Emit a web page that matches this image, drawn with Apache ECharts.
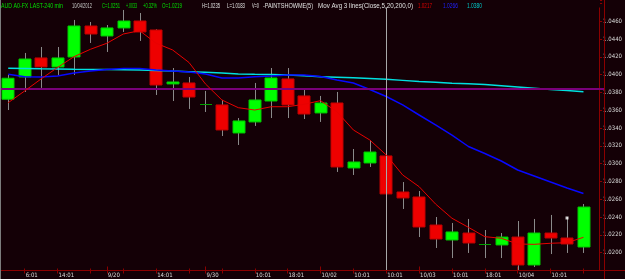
<!DOCTYPE html>
<html><head><meta charset="utf-8">
<script src="https://cdn.jsdelivr.net/npm/echarts@6/dist/echarts.min.js"></script>
<style>html,body{margin:0;padding:0;background:#140006;}#c{width:625px;height:279px;}</style>
</head><body><div id="c"></div>
<script>
// x-axis categories (one per 240-min bar; last slot is empty padding)
const categories = ['', '6:01', '', '14:01', '', '', '9/20', '', '', '14:01', '', '', '9/30', '', '', '10:01', '', '18:01', '', '10/02', '', '10:01', '', '10:01', '', '10/03', '', '10:01', '', '18:01', '', '10/04', '', '10:01', '', '', ''];
const tickIndices = [1, 3, 5, 6, 7, 9, 11, 12, 13, 15, 17, 19, 21, 23, 25, 27, 29, 31, 33, 35];
const dayTickIndices = [6, 12, 19, 25, 31];

const opens  = [1.03724,1.03974,1.04188,1.04087,1.04199,1.04547,1.04435,1.04525,1.04603,1.04502,1.03896,1.03907,1.03671,1.03660,1.03345,1.03469,1.03704,1.03952,1.03761,1.03570,1.03682,1.02952,1.03008,1.03087,1.02682,1.02626,1.02311,1.02143,1.02221,1.02098,1.02087,1.02176,1.01862,1.02221,1.02165,1.02064];
const closes = [1.03960,1.04176,1.04087,1.04188,1.04547,1.04457,1.04525,1.04603,1.04480,1.03884,1.03918,1.03749,1.03671,1.03379,1.03480,1.03716,1.03963,1.03660,1.03558,1.03682,1.02963,1.03019,1.03131,1.02660,1.02615,1.02289,1.02154,1.02233,1.02109,1.02098,1.02176,1.01862,1.02221,1.02165,1.02098,1.02513];
const lows   = [1.03603,1.03806,1.03851,1.03997,1.03997,1.04356,1.04255,1.04480,1.04379,1.03772,1.03704,1.03615,1.03581,1.03311,1.03210,1.03424,1.03513,1.03513,1.03502,1.03469,1.02907,1.02873,1.02963,1.02626,1.02491,1.02176,1.02053,1.01940,1.01997,1.01940,1.01940,1.01806,1.01839,1.01985,1.01997,1.01997];
const highs  = [1.03997,1.04244,1.04311,1.04311,1.04615,1.04592,1.04558,1.04727,1.04693,1.04510,1.04075,1.03974,1.03817,1.03716,1.03513,1.03907,1.04075,1.04075,1.03839,1.03761,1.03806,1.03165,1.03266,1.03154,1.02794,1.02693,1.02401,1.02334,1.02379,1.02255,1.02221,1.02356,1.02379,1.02424,1.02401,1.02547];

const ma5   = [1.03685,1.03817,1.03952,1.04081,1.04202,1.04285,1.04353,1.04457,1.04494,1.04353,1.04278,1.04137,1.03896,1.03716,1.03629,1.03603,1.03640,1.03640,1.03667,1.03708,1.03584,1.03379,1.03266,1.03098,1.02873,1.02742,1.02547,1.02387,1.02285,1.02180,1.02162,1.02098,1.02094,1.02106,1.02112,1.02173];
const ma20  = [1.04004,1.03978,1.03974,1.03985,1.04019,1.04042,1.04058,1.04070,1.04070,1.04053,1.04042,1.04030,1.04008,1.03963,1.03963,1.03978,1.03985,1.03997,1.03997,1.03980,1.03940,1.03907,1.03834,1.03755,1.03660,1.03547,1.03435,1.03322,1.03193,1.03115,1.03030,1.02929,1.02862,1.02794,1.02727,1.02665];
const ma200 = [1.04072,1.04069,1.04066,1.04064,1.04061,1.04059,1.04057,1.04055,1.04053,1.04047,1.04040,1.04034,1.04027,1.04018,1.04008,1.04004,1.04001,1.03997,1.03988,1.03978,1.03972,1.03966,1.03957,1.03948,1.03936,1.03924,1.03914,1.03903,1.03897,1.03890,1.03876,1.03862,1.03848,1.03834,1.03822,1.03809];

const hLineValue = 1.03845;
const cursorIndex = 23;
const paintMarks = [[34, 1.02390]];

const headerParts = [
  {text: 'AUD A0-FX LAST-240 min', x: 1, w: 62, color: '#00e000'},
  {text: '10/04/2012', x: 72, w: 20, color: '#c8c8c8'},
  {text: 'C=1.0251', x: 102, w: 18, color: '#00e000'},
  {text: '+.0033', x: 126, w: 11, color: '#00e000'},
  {text: '+0.32%', x: 143, w: 14, color: '#00e000'},
  {text: 'O=1.0219', x: 162, w: 20, color: '#00e000'},
  {text: 'H=1.0235', x: 202, w: 18, color: '#e0e0e0'},
  {text: 'L=1.0183', x: 227, w: 18, color: '#e0e0e0'},
  {text: 'V=0', x: 252, w: 7, color: '#e0e0e0'},
  {text: '-PAINTSHOWME(5)', x: 263, w: 50, color: '#e0e0e0'},
  {text: 'Mov Avg 3 lines(Close,5,20,200,0)', x: 318, w: 95, color: '#e0e0e0'},
  {text: '1.0217', x: 418, w: 14, color: '#e00000'},
  {text: '1.0266', x: 443, w: 15, color: '#2020ff'},
  {text: '1.0380', x: 467, w: 15, color: '#00c8c8'}
];

const BG = '#140006';
const AX = '#8b0000';
const LBL = '#dcdcdc';
const FONT_FAM = "'Liberation Sans Narrow', 'DejaVu Sans Condensed', 'Liberation Sans', sans-serif";

const candleData = opens.map((o, i) => [i, o, closes[i], lows[i], highs[i]]);
const tickSet = new Set(tickIndices);
const daySet = new Set(dayTickIndices);

const mctx = document.createElement('canvas').getContext('2d');
const HFONT = "7px 'Liberation Sans', sans-serif";
mctx.font = HFONT;
const headerGraphics = headerParts.map(p => {
  const mw = mctx.measureText(p.text).width || 1;
  return {type: 'text', x: p.x, y: 6, scaleX: p.w / mw, z: 101, silent: true,
    style: {text: p.text, fill: p.color, font: HFONT, verticalAlign: 'middle', align: 'left'}};
});

const chart = echarts.init(document.getElementById('c'), null, {renderer: 'canvas'});
chart.setOption({
  animation: false,
  backgroundColor: BG,
  grid: {left: -2.3, right: 12, top: 0, bottom: 8.5, containLabel: false},
  xAxis: [
    {type: 'category', data: categories, boundaryGap: true, position: 'bottom',
     axisLine: {show: true, lineStyle: {color: AX, width: 1}},
     axisTick: {show: true, alignWithLabel: true, length: 3, interval: (i) => tickSet.has(i), lineStyle: {color: AX}},
     axisLabel: {show: true, interval: 0, align: 'left', margin: 2, fontSize: 6, color: LBL, fontFamily: FONT_FAM, padding: [0, 0, 0, 1]},
     splitLine: {show: false}},
    {type: 'category', data: categories, boundaryGap: true, position: 'bottom', offset: 0,
     axisLine: {show: false}, axisLabel: {show: false}, splitLine: {show: false},
     axisTick: {show: true, alignWithLabel: true, inside: true, length: 2, interval: (i) => tickSet.has(i), lineStyle: {color: AX}}},
    {type: 'category', data: categories, boundaryGap: true, position: 'bottom', offset: 0,
     axisLine: {show: false}, axisLabel: {show: false}, splitLine: {show: false},
     axisTick: {show: true, alignWithLabel: true, inside: true, length: 4, interval: (i) => daySet.has(i), lineStyle: {color: AX}}}
  ],
  yAxis: {type: 'value', position: 'right', offset: -9, min: 1.018, max: 1.04839, interval: 0.002,
    axisLine: {show: true, lineStyle: {color: AX}},
    axisTick: {show: true, length: 3, lineStyle: {color: AX}},
    axisLabel: {color: LBL, fontSize: 6, fontFamily: FONT_FAM, margin: 4,
      formatter: v => (v > 1.0195 && v < 1.0465) ? v.toFixed(4) : ''},
    splitLine: {show: false}},
  series: [
    {type: 'custom', name: 'price', data: candleData, encode: {x: 0, y: [1, 2, 3, 4]}, z: 2,
     renderItem: (params, api) => {
       const i = api.value(0), o = api.value(1), c = api.value(2), l = api.value(3), h = api.value(4);
       const pO = api.coord([i, o]), pC = api.coord([i, c]), pL = api.coord([i, l]), pH = api.coord([i, h]);
       const w = api.size([1, 0])[0] * 0.7;
       const cx = Math.round(pO[0]) + 0.5;
       const top = Math.min(pO[1], pC[1]), bot = Math.max(pO[1], pC[1]);
       const bx = Math.round(pO[0] - w / 2), bw = Math.round(w);
       const children = [{type: 'line', shape: {x1: cx, y1: pH[1], x2: cx, y2: pL[1]}, style: {stroke: '#8a8a8a', lineWidth: 1}}];
       if (Math.abs(c - o) < 1e-6) {
         children.push({type: 'line', shape: {x1: bx, y1: Math.round(top) + 0.5, x2: bx + bw, y2: Math.round(top) + 0.5}, style: {stroke: '#00a000', lineWidth: 1}});
       } else {
         const up = c > o;
         children.push({type: 'rect', shape: {x: bx, y: top, width: bw, height: Math.max(bot - top, 1.5)},
           style: {fill: up ? '#00ff00' : '#ee0000', stroke: up ? '#00c800' : '#c00000', lineWidth: 1}});
       }
       return {type: 'group', children};
     }},
    {type: 'line', name: 'MA200', data: ma200, showSymbol: false, symbol: 'none', z: 3,
     lineStyle: {color: '#00e0e0', width: 1.5},
     markLine: {silent: true, symbol: 'none', label: {show: false}, animation: false,
       data: [
         [{coord: [0, hLineValue], x: 0}, {coord: [36, hLineValue], x: 604}],
       ],
       lineStyle: {color: '#7a007a', width: 2, type: 'solid'}}},
    {type: 'line', name: 'MA20', data: ma20, showSymbol: false, symbol: 'none', z: 4,
     lineStyle: {color: '#0808ff', width: 1.5}},
    {type: 'line', name: 'MA5', data: ma5, showSymbol: false, symbol: 'none', z: 5,
     lineStyle: {color: '#e80000', width: 1},
     markLine: {silent: true, symbol: 'none', label: {show: false}, animation: false,
       data: [{xAxis: cursorIndex}],
       lineStyle: {color: '#a8a8a8', width: 1, type: 'solid'}}},
    {type: 'scatter', name: 'paint', data: paintMarks, symbol: 'rect', symbolSize: 3, z: 6,
     itemStyle: {color: '#ffffff'}}
  ],
  graphic: [
    {type: 'rect', z: 100, silent: true, shape: {x: 2, y: 0, width: 598, height: 7.5}, style: {fill: BG}},
    {type: 'line', z: 102, silent: true, shape: {x1: 0, y1: 270.5, x2: 625, y2: 270.5}, style: {stroke: AX, lineWidth: 1}},
    {type: 'line', z: 102, silent: true, shape: {x1: 604.5, y1: 0, x2: 604.5, y2: 279}, style: {stroke: AX, lineWidth: 1}},
    {type: 'line', z: 102, silent: true, shape: {x1: 0.5, y1: 0, x2: 0.5, y2: 279}, style: {stroke: '#7c7c7c', lineWidth: 1}},
    ...headerGraphics
  ]
});
</script>
</body></html>
